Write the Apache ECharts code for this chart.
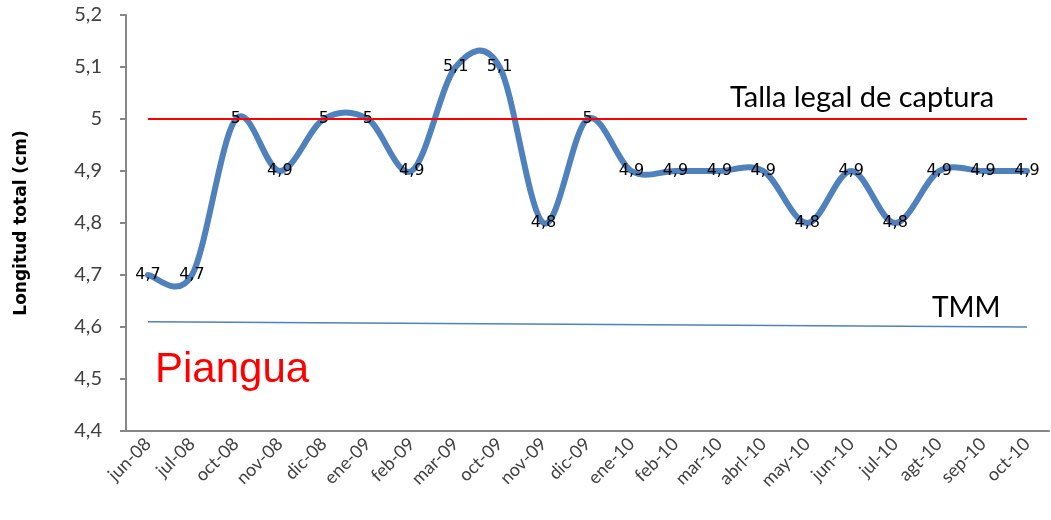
<!DOCTYPE html>
<html>
<head>
<meta charset="utf-8">
<script src="https://cdn.jsdelivr.net/npm/echarts@6/dist/echarts.min.js"></script>
<style>
  html, body { margin: 0; padding: 0; background: #fff; }
  #main { width: 1051px; height: 520px; }
</style>
</head>
<body>
<div id="main"></div>
<script>
// datos
var meses = ['jun-08', 'jul-08', 'oct-08', 'nov-08', 'dic-08', 'ene-09', 'feb-09', 'mar-09', 'oct-09', 'nov-09',
             'dic-09', 'ene-10', 'feb-10', 'mar-10', 'abrl-10', 'may-10', 'jun-10', 'jul-10', 'agt-10', 'sep-10', 'oct-10'];
var longitud = [4.7, 4.7, 5, 4.9, 5, 5, 4.9, 5.1, 5.1, 4.8, 5, 4.9, 4.9, 4.9, 4.9, 4.8, 4.9, 4.8, 4.9, 4.9, 4.9];
var tallaLegal = 5;
var tmm = [4.61, 4.60];

var coma = function (v) { return String(v).replace('.', ','); };
var fuente = 'Lato, "Open Sans", sans-serif';

// curva suavizada tipo Excel (Catmull-Rom -> bezier)
function curva(params, api) {
    if (params.dataIndex !== 0) return null;
    var p = longitud.map(function (v, i) { return api.coord([i, v]); });
    var d = 'M' + p[0][0] + ' ' + p[0][1];
    for (var i = 0; i < p.length - 1; i++) {
        var p0 = p[i - 1] || p[i], p1 = p[i], p2 = p[i + 1], p3 = p[i + 2] || p[i + 1];
        var c1 = [p1[0] + (p2[0] - p0[0]) / 6, p1[1] + (p2[1] - p0[1]) / 6];
        var c2 = [p2[0] - (p3[0] - p1[0]) / 6, p2[1] - (p3[1] - p1[1]) / 6];
        d += ' C' + c1[0] + ' ' + c1[1] + ' ' + c2[0] + ' ' + c2[1] + ' ' + p2[0] + ' ' + p2[1];
    }
    return {
        type: 'path',
        shape: { pathData: d },
        style: { fill: 'none', stroke: '#4f81bd', lineWidth: 6, lineCap: 'round', lineJoin: 'round' }
    };
}

var chart = echarts.init(document.getElementById('main'));

var option = {
    animation: false,
    textStyle: { fontFamily: fuente },
    grid: { left: 126, right: 2, top: 15, bottom: 89, containLabel: false },
    xAxis: {
        type: 'category',
        data: meses,
        boundaryGap: true,
        axisLine: { lineStyle: { color: '#868686', width: 2 } },
        axisTick: { show: false },
        axisLabel: { rotate: 45, color: '#404040', fontSize: 18, margin: 10, interval: 0 }
    },
    yAxis: {
        type: 'value',
        min: 4.4,
        max: 5.2,
        interval: 0.1,
        name: 'Longitud total (cm)',
        nameLocation: 'middle',
        nameGap: 96,
        nameTextStyle: { fontWeight: 'bold', fontSize: 17, fontFamily: '"DejaVu Sans", sans-serif', color: '#000' },
        axisLine: { show: true, lineStyle: { color: '#868686', width: 2 } },
        axisTick: { show: true, length: 6, lineStyle: { color: '#868686', width: 2 } },
        splitLine: { show: false },
        axisLabel: { color: '#404040', fontSize: 20, margin: 24, formatter: function (v) { return coma(+v.toFixed(1)); } }
    },
    series: [
        {
            name: 'curva',
            type: 'custom',
            renderItem: curva,
            data: longitud.map(function (v, i) { return [i, v]; }),
            silent: true,
            z: 2
        },
        {
            name: 'Longitud',
            type: 'line',
            data: longitud,
            symbol: 'circle',
            symbolSize: 1,
            itemStyle: { color: 'rgba(0,0,0,0)' },
            lineStyle: { width: 0, opacity: 0 },
            label: {
                show: true,
                position: 'inside',
                color: '#000',
                fontFamily: '"DejaVu Sans", sans-serif',
                fontSize: 16,
                formatter: function (p) { return coma(p.value); }
            },
            markLine: {
                silent: true,
                symbol: 'none',
                data: [
                    [
                        { coord: [-0.43, tallaLegal], lineStyle: { color: '#ff0000', width: 2, type: 'solid' } },
                        { coord: [20.05, tallaLegal] }
                    ],
                    [
                        { coord: [-0.43, tmm[0]], lineStyle: { color: '#4f81bd', width: 1.5, type: 'solid' } },
                        { coord: [20.2, tmm[1]] }
                    ]
                ],
                label: { show: false }
            },
            z: 3
        }
    ],
    graphic: [
        { type: 'text', left: 730, top: 83, style: { text: 'Talla legal de captura', font: '29px ' + fuente, fill: '#000' } },
        { type: 'text', left: 932, top: 294, style: { text: 'TMM', font: '28px ' + fuente, fill: '#000' } },
        { type: 'text', left: 155, top: 349, style: { text: 'Piangua', font: '42px Arial, "Liberation Sans", sans-serif', fill: '#ff0000' } }
    ]
};

chart.setOption(option);
</script>
</body>
</html>
